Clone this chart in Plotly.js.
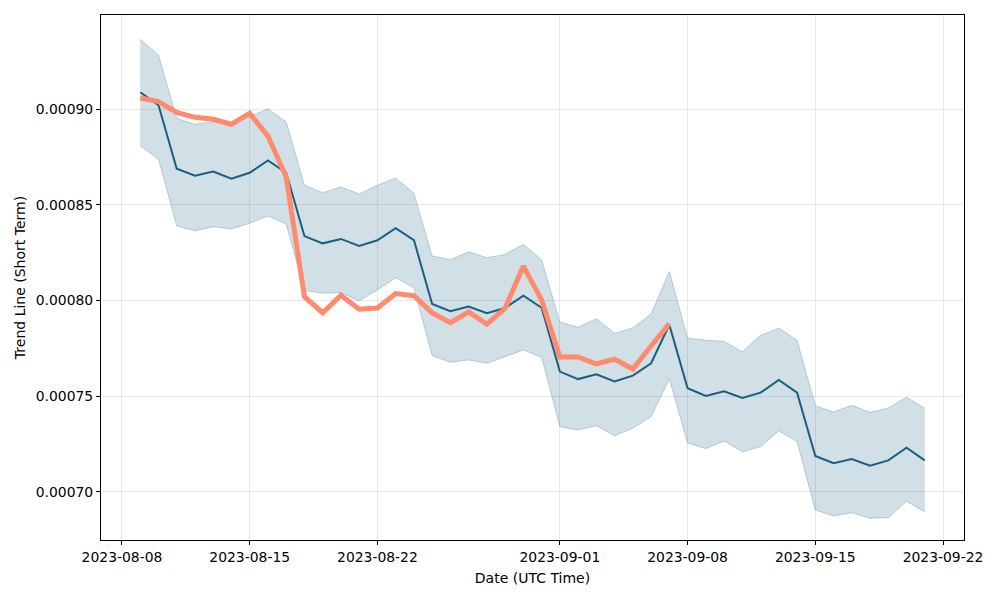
<!DOCTYPE html>
<html>
<head>
<meta charset="utf-8">
<script src="https://cdn.plot.ly/plotly-3.0.1.min.js"></script>
<style>html,body{margin:0;padding:0;background:#fff;}#chart{width:1000px;height:600px;}</style>
</head>
<body>
<div id="chart"></div>
<script>
const dates = [
  '2023-08-09','2023-08-10','2023-08-11','2023-08-12','2023-08-13','2023-08-14','2023-08-15','2023-08-16',
  '2023-08-17','2023-08-18','2023-08-19','2023-08-20','2023-08-21','2023-08-22','2023-08-23','2023-08-24',
  '2023-08-25','2023-08-26','2023-08-27','2023-08-28','2023-08-29','2023-08-30','2023-08-31','2023-09-01',
  '2023-09-02','2023-09-03','2023-09-04','2023-09-05','2023-09-06','2023-09-07','2023-09-08','2023-09-09',
  '2023-09-10','2023-09-11','2023-09-12','2023-09-13','2023-09-14','2023-09-15','2023-09-16','2023-09-17',
  '2023-09-18','2023-09-19','2023-09-20','2023-09-21'
];
const trend = [
  0.0009089,0.0009022,0.0008689,0.0008653,0.0008674,0.0008637,0.0008668,0.0008733,
  0.0008668,0.0008337,0.0008299,0.0008322,0.0008285,0.0008315,0.0008378,0.0008316,
  0.0007982,0.0007944,0.0007968,0.0007933,0.0007961,0.0008025,0.0007962,0.0007628,
  0.0007589,0.0007614,0.0007577,0.0007607,0.0007672,0.0007873,0.0007541,0.0007501,
  0.0007525,0.0007490,0.0007518,0.0007584,0.0007518,0.0007187,0.0007149,0.0007171,
  0.0007136,0.0007164,0.0007230,0.0007164
];
const upper = [
  0.0009366,0.0009284,0.0008953,0.0008922,0.0008935,0.0008927,0.0008961,0.0009003,
  0.0008935,0.0008604,0.0008564,0.0008594,0.0008557,0.0008603,0.0008641,0.0008561,
  0.0008233,0.0008213,0.0008255,0.0008224,0.0008241,0.0008294,0.0008212,0.0007888,
  0.0007860,0.0007905,0.0007828,0.0007858,0.0007929,0.0008151,0.0007804,0.0007792,
  0.0007787,0.0007732,0.0007818,0.0007855,0.0007792,0.0007450,0.0007417,0.0007452,
  0.0007415,0.0007438,0.0007494,0.0007436
];
const lower = [
  0.0008810,0.0008739,0.0008390,0.0008364,0.0008386,0.0008374,0.0008404,0.0008442,
  0.0008400,0.0008053,0.0008038,0.0008041,0.0007999,0.0008055,0.0008119,0.0008067,
  0.0007711,0.0007677,0.0007689,0.0007672,0.0007706,0.0007741,0.0007703,0.0007340,
  0.0007323,0.0007345,0.0007293,0.0007332,0.0007392,0.0007589,0.0007255,0.0007225,
  0.0007265,0.0007209,0.0007235,0.0007318,0.0007262,0.0006904,0.0006873,0.0006890,
  0.0006861,0.0006864,0.0006950,0.0006894
];
const priceDates = dates.slice(0, 30);
const price = [
  0.0009059,0.0009040,0.0008984,0.0008958,0.0008948,0.0008922,0.0008979,0.0008860,
  0.0008646,0.0008020,0.0007936,0.0008027,0.0007954,0.0007961,0.0008036,0.0008025,
  0.0007935,0.0007884,0.0007940,0.0007876,0.0007959,0.0008180,0.0008003,0.0007705,
  0.0007705,0.0007668,0.0007693,0.0007642,0.0007762,0.0007879
];
const tickDates = ['2023-08-08','2023-08-15','2023-08-22','2023-09-01','2023-09-08','2023-09-15','2023-09-22'];
const yTicks = [0.00070,0.00075,0.00080,0.00085,0.00090];

const traces = [
  {x: dates, y: lower, type: 'scatter', mode: 'lines', line: {color: 'rgba(27,94,128,0.25)', width: 1}, hoverinfo: 'skip', showlegend: false},
  {x: dates, y: upper, type: 'scatter', mode: 'lines', fill: 'tonexty', fillcolor: 'rgba(27,94,128,0.2)', line: {color: 'rgba(27,94,128,0.25)', width: 1}, hoverinfo: 'skip', showlegend: false},
  {x: dates, y: trend, type: 'scatter', mode: 'lines', line: {color: '#1b5e80', width: 2}, showlegend: false},
  {x: priceDates, y: price, type: 'scatter', mode: 'lines', line: {color: '#ff8a6e', width: 5}, showlegend: false}
];

const axisFont = {family: 'DejaVu Sans', size: 14, color: '#000'};
const tickFont = {family: 'DejaVu Sans', size: 13.9, color: '#000'};
const layout = {
  width: 1000, height: 600,
  margin: {l: 101, r: 36, t: 15, b: 60},
  paper_bgcolor: '#fff', plot_bgcolor: '#fff',
  font: axisFont,
  xaxis: {
    type: 'date',
    range: ['2023-08-06 20:24', '2023-09-23 03:36'],
    tickvals: tickDates, ticktext: tickDates,
    showgrid: true, gridcolor: 'rgba(0,0,0,0.09)', gridwidth: 1,
    showline: true, linecolor: '#000', linewidth: 1, mirror: true,
    ticks: 'outside', ticklen: 4, tickcolor: '#000',
    zeroline: false,
    tickfont: tickFont,
    title: {text: 'Date (UTC Time)', font: axisFont, standoff: 9}
  },
  yaxis: {
    range: [0.00067474, 0.00094932],
    tickvals: yTicks, tickformat: '.5f',
    showgrid: true, gridcolor: 'rgba(0,0,0,0.09)', gridwidth: 1,
    showline: true, linecolor: '#000', linewidth: 1, mirror: true,
    ticks: 'outside', ticklen: 4, tickcolor: '#000',
    zeroline: false,
    tickfont: tickFont,
    title: {text: 'Trend Line (Short Term)', font: axisFont, standoff: 6}
  }
};
Plotly.newPlot('chart', traces, layout, {displayModeBar: false, staticPlot: true});
</script>
</body>
</html>
